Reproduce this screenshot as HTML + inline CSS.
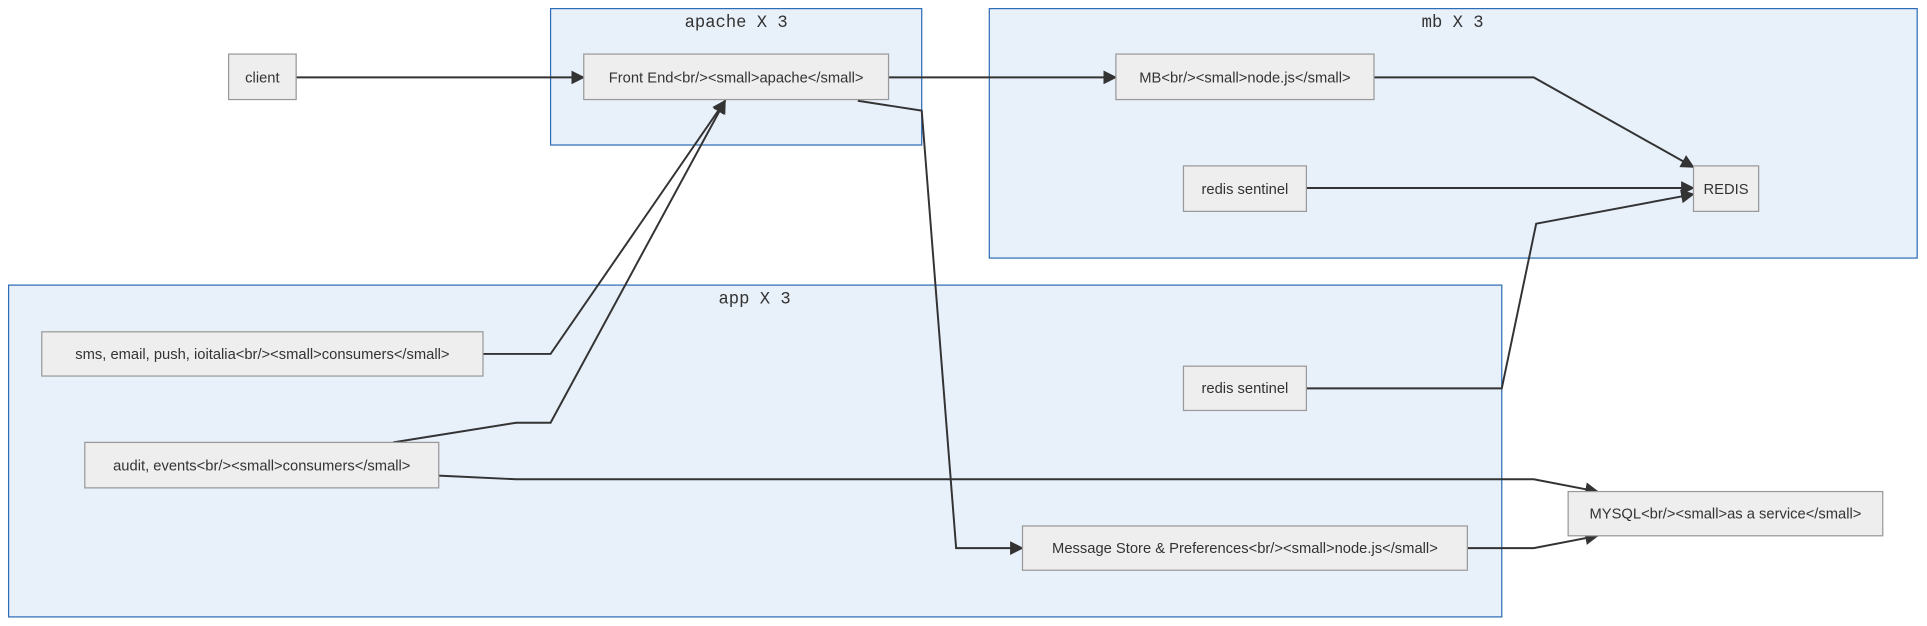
<!DOCTYPE html>
<html><head><meta charset="utf-8"><style>html,body{margin:0;padding:0;background:#fff;}svg{display:block}</style></head>
<body>
<svg width="1927" height="626" viewBox="0 0 1568 509.4" preserveAspectRatio="none" xmlns="http://www.w3.org/2000/svg">
<defs><marker id="a" viewBox="0 0 10 10" refX="9" refY="5" markerWidth="7" markerHeight="7" orient="auto"><path d="M0,0L10,5L0,10z" fill="#333"/></marker></defs>
<g fill="#e8f0fa" stroke="#2e6db5" stroke-width="1">
<rect x="448" y="7" width="302" height="111"/>
<rect x="805" y="7" width="755" height="203"/>
<rect x="7" y="232" width="1215" height="270"/>
</g>
<g font-family="Liberation Mono, monospace" font-size="14" fill="#333" text-anchor="middle">
<text x="599" y="22">apache X 3</text>
<text x="1182" y="22">mb X 3</text>
<text x="614" y="247">app X 3</text>
</g>
<g fill="none" stroke="#333" stroke-width="1.6" marker-end="url(#a)">
<path d="M241,63H475"/>
<path d="M723,63H908"/>
<path d="M1118,63H1248L1378,136"/>
<path d="M1063,153H1378"/>
<path d="M1063,316H1222L1250,182L1378,158"/>
<path d="M393,288H448L590,82"/>
<path d="M320,360L420,344H448L590,82"/>
<path d="M357,387L420,390H1248L1300,400"/>
<path d="M698,82L750,90L778,446H832"/>
<path d="M1194,446H1248L1300,436"/>
</g>
<g fill="#eee" stroke="#999" stroke-width="1">
<rect x="186" y="44" width="55" height="37"/>
<rect x="475" y="44" width="248" height="37"/>
<rect x="908" y="44" width="210" height="37"/>
<rect x="963" y="135" width="100" height="37"/>
<rect x="1378" y="135" width="53" height="37"/>
<rect x="34" y="270" width="359" height="36"/>
<rect x="69" y="360" width="288" height="37"/>
<rect x="963" y="298" width="100" height="36"/>
<rect x="832" y="428" width="362" height="36"/>
<rect x="1276" y="400" width="256" height="36"/>
</g>
<g font-family="Liberation Sans, sans-serif" font-size="12" fill="#333" text-anchor="middle">
<text x="213.5" y="67">client</text>
<text x="599" y="67">Front End&lt;br/&gt;&lt;small&gt;apache&lt;/small&gt;</text>
<text x="1013" y="67">MB&lt;br/&gt;&lt;small&gt;node.js&lt;/small&gt;</text>
<text x="1013" y="158">redis sentinel</text>
<text x="1404.5" y="158">REDIS</text>
<text x="213.5" y="292">sms, email, push, ioitalia&lt;br/&gt;&lt;small&gt;consumers&lt;/small&gt;</text>
<text x="213" y="383">audit, events&lt;br/&gt;&lt;small&gt;consumers&lt;/small&gt;</text>
<text x="1013" y="320">redis sentinel</text>
<text x="1013" y="450">Message Store &amp; Preferences&lt;br/&gt;&lt;small&gt;node.js&lt;/small&gt;</text>
<text x="1404" y="422">MYSQL&lt;br/&gt;&lt;small&gt;as a service&lt;/small&gt;</text>
</g>
</svg>
</body></html>
